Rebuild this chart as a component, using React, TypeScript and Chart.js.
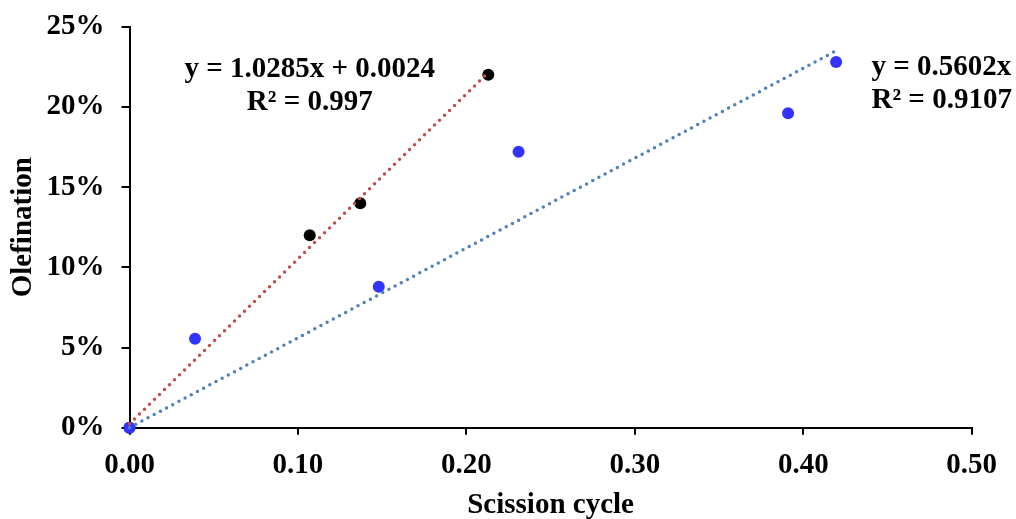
import React, { useEffect, useRef } from "react";
import { Chart, registerables } from "chart.js";

Chart.register(...registerables);

// Series A (black markers): scission cycle vs olefination
const seriesAX = [0, 0.107, 0.137, 0.213];
const seriesAY = [0, 0.12, 0.14, 0.22];

// Series B (blue markers)
const seriesBX = [0, 0.0389, 0.148, 0.231, 0.391, 0.4195];
const seriesBY = [0, 0.0555, 0.0879, 0.172, 0.196, 0.228];

// Linear fits shown with their equations
const fitASlope = 1.0285;
const fitAIntercept = 0.0024;
const fitAR2 = 0.997;
const fitBSlope = 0.5602;
const fitBIntercept = 0;
const fitBR2 = 0.9107;

// Axis ranges / ticks
const xTickValues = [0, 0.1, 0.2, 0.3, 0.4, 0.5];
const yTickValues = [0, 0.05, 0.1, 0.15, 0.2, 0.25];

const FONT_FAMILY = '"Liberation Serif", "Times New Roman", serif';

const toPoints = (xs: number[], ys: number[]) => xs.map((x, i) => ({ x, y: ys[i] }));

const fitLine = (xs: number[], slope: number, intercept: number) => {
  const x0 = Math.min(...xs);
  const x1 = Math.max(...xs);
  return [
    { x: x0, y: slope * x0 + intercept },
    { x: x1, y: slope * x1 + intercept },
  ];
};

const fmtSigned = (v: number) => (v > 0 ? ` + ${v.toFixed(4)}` : v < 0 ? ` − ${Math.abs(v).toFixed(4)}` : "");

// Draws the regression equations next to the fitted lines
const equationPlugin = {
  id: "equationLabels",
  afterDatasetsDraw(chart: any) {
    const { ctx, scales } = chart;
    const xs = scales.x;
    const ys = scales.y;
    ctx.save();
    ctx.fillStyle = "#000";
    ctx.font = `bold 29px ${FONT_FAMILY}`;
    ctx.textBaseline = "alphabetic";

    // Fit A, centered block
    ctx.textAlign = "center";
    const ax = xs.getPixelForValue(0.107);
    const ay = ys.getPixelForValue(0.2186);
    ctx.fillText(`y = ${fitASlope.toFixed(4)}x${fmtSigned(fitAIntercept)}`, ax, ay);
    ctx.fillText(`R² = ${fitAR2}`, ax, ay + 33);

    // Fit B, left-aligned block
    ctx.textAlign = "left";
    const bx = xs.getPixelForValue(0.4405);
    const by = ys.getPixelForValue(0.2199);
    ctx.fillText(`y = ${fitBSlope.toFixed(4)}x${fmtSigned(fitBIntercept)}`, bx, by);
    ctx.fillText(`R² = ${fitBR2}`, bx, by + 33);
    ctx.restore();
  },
};

export default function App() {
  const canvasRef = useRef<HTMLCanvasElement | null>(null);

  useEffect(() => {
    const canvas = canvasRef.current;
    if (!canvas) return;
    const tickFont = { family: FONT_FAMILY, size: 29, weight: "bold" as const };

    const chart = new Chart(canvas, {
      type: "scatter",
      data: {
        datasets: [
          {
            label: "Fit A",
            data: fitLine(seriesAX, fitASlope, fitAIntercept),
            showLine: true,
            borderColor: "#C0504D",
            borderWidth: 3.5,
            borderDash: [0, 7],
            borderCapStyle: "round",
            pointRadius: 0,
            clip: false,
            order: 0,
          },
          {
            label: "Fit B",
            data: fitLine(seriesBX, fitBSlope, fitBIntercept),
            showLine: true,
            borderColor: "#4F81BD",
            borderWidth: 3.5,
            borderDash: [0, 7],
            borderCapStyle: "round",
            pointRadius: 0,
            clip: false,
            order: 1,
          },
          {
            label: "Series B",
            data: toPoints(seriesBX, seriesBY),
            backgroundColor: "#3333FF",
            borderColor: "#3333FF",
            borderWidth: 0,
            pointRadius: 6,
            clip: false,
            order: 2,
          },
          {
            label: "Series A",
            data: toPoints(seriesAX, seriesAY),
            backgroundColor: "#000000",
            borderColor: "#000000",
            borderWidth: 0,
            pointRadius: 6,
            clip: false,
            order: 3,
          },
        ],
      },
      options: {
        responsive: false,
        animation: false,
        devicePixelRatio: 1,
        layout: { padding: { left: 0, right: 44.3, top: 26.7, bottom: 0 } },
        plugins: {
          legend: { display: false },
          tooltip: { enabled: false },
        },
        scales: {
          x: {
            type: "linear",
            min: xTickValues[0],
            max: xTickValues[xTickValues.length - 1],
            afterBuildTicks: (scale: any) => {
              scale.ticks = xTickValues.map((v) => ({ value: v }));
            },
            afterFit: (scale: any) => {
              scale.height = 91.3;
              scale.paddingLeft = 0;
              scale.paddingRight = 0;
            },
            ticks: {
              color: "#000",
              font: tickFont,
              padding: 13,
              maxRotation: 0,
              callback: (v: any) => Number(v).toFixed(2),
            },
            grid: {
              display: true,
              drawOnChartArea: false,
              drawTicks: true,
              tickLength: 7,
              color: "#000",
              lineWidth: 2,
            },
            border: { display: true, color: "#000", width: 2 },
            title: {
              display: true,
              text: "Scission cycle",
              color: "#000",
              font: tickFont,
              padding: { top: 0, bottom: -4 },
            },
          },
          y: {
            type: "linear",
            min: yTickValues[0],
            max: yTickValues[yTickValues.length - 1],
            afterBuildTicks: (scale: any) => {
              scale.ticks = yTickValues.map((v) => ({ value: v }));
            },
            afterFit: (scale: any) => {
              scale.width = 129.5;
              scale.paddingTop = 0;
              scale.paddingBottom = 0;
            },
            ticks: {
              color: "#000",
              font: tickFont,
              padding: 17,
              callback: (v: any) => `${Math.round(Number(v) * 100)}%`,
            },
            grid: {
              display: true,
              drawOnChartArea: false,
              drawTicks: true,
              tickLength: 8,
              color: "#000",
              lineWidth: 2,
            },
            border: { display: true, color: "#000", width: 2 },
            title: {
              display: true,
              text: "Olefination",
              color: "#000",
              font: tickFont,
              padding: { top: 6, bottom: 0 },
            },
          },
        },
      },
      plugins: [equationPlugin],
    } as any);

    return () => chart.destroy();
  }, []);

  return (
    <div style={{ width: 1016, height: 519, background: "#fff" }}>
      <style>{"body{margin:0;background:#fff;}"}</style>
      <canvas ref={canvasRef} width={1016} height={519} style={{ display: "block" }} />
    </div>
  );
}
